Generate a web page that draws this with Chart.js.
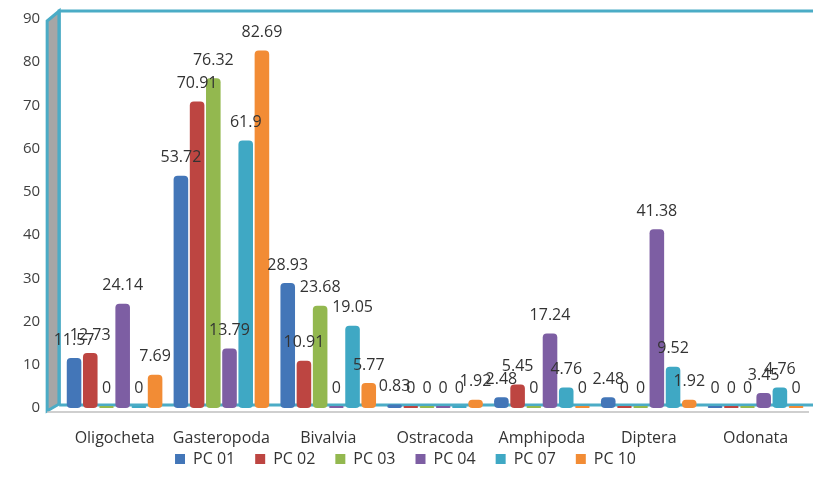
<!DOCTYPE html>
<html>
<head>
<meta charset="utf-8">
<script src="https://cdn.jsdelivr.net/npm/chart.js@4"></script>
<style>
  html, body { margin: 0; padding: 0; background: #fff; }
  #wrap { width: 817px; height: 494px; position: relative; }
</style>
</head>
<body>
<div id="wrap"><canvas id="taxaChart"></canvas></div>
<script>
// categories and series
const taxa = ['Oligocheta', 'Gasteropoda', 'Bivalvia', 'Ostracoda', 'Amphipoda', 'Diptera', 'Odonata'];
const pc01 = [11.57, 53.72, 28.93, 0.83, 2.48, 2.48, 0];
const pc02 = [12.73, 70.91, 10.91, 0, 5.45, 0, 0];
const pc03 = [0, 76.32, 23.68, 0, 0, 0, 0];
const pc04 = [24.14, 13.79, 0, 0, 17.24, 41.38, 3.45];
const pc07 = [0, 61.9, 19.05, 0, 4.76, 9.52, 4.76];
const pc10 = [7.69, 82.69, 5.77, 1.92, 0, 1.92, 0];
const yTicks = [0, 10, 20, 30, 40, 50, 60, 70, 80, 90];

const FONT = '"Open Sans", Lato, sans-serif';

// wall + floor decoration, like the old excel 3d look
const wallPlugin = {
    id: 'wall',
    afterLayout(chart) {
        // pull the legend up closer to the category labels
        const lg = chart.legend;
        if (lg) {
            lg.top -= 17;
            lg.bottom -= 17;
        }
    },
    beforeDatasetsDraw(chart) {
        const { ctx, chartArea: a } = chart;
        ctx.save();
        // left side wall
        ctx.fillStyle = '#a6a6a6';
        ctx.beginPath();
        ctx.moveTo(a.left - 14, a.top + 2);
        ctx.lineTo(a.left - 2, a.top - 8);
        ctx.lineTo(a.left - 2, a.bottom - 4);
        ctx.lineTo(a.left - 14, a.bottom + 3);
        ctx.closePath();
        ctx.fill();
        ctx.strokeStyle = '#4bacc6';
        ctx.lineWidth = 3;
        ctx.stroke();
        // back wall border
        ctx.beginPath();
        ctx.moveTo(a.left - 2, a.bottom - 4);
        ctx.lineTo(a.left - 2, a.top - 8);
        ctx.lineTo(a.right + 4, a.top - 8);
        ctx.stroke();
        // floor
        ctx.beginPath();
        ctx.moveTo(a.left - 2, a.bottom - 3);
        ctx.lineTo(a.right + 4, a.bottom - 3);
        ctx.stroke();
        ctx.strokeStyle = '#bfbfbf';
        ctx.lineWidth = 1.5;
        ctx.beginPath();
        ctx.moveTo(a.left - 14, a.bottom + 4);
        ctx.lineTo(a.right, a.bottom + 4);
        ctx.stroke();
        ctx.restore();
    }
};

// value labels above each bar
const valueLabels = {
    id: 'valueLabels',
    afterDatasetsDraw(chart) {
        const { ctx } = chart;
        ctx.save();
        ctx.font = '16px ' + FONT;
        ctx.fillStyle = '#333';
        ctx.textAlign = 'center';
        ctx.textBaseline = 'middle';
        chart.data.datasets.forEach((ds, i) => {
            chart.getDatasetMeta(i).data.forEach((bar, j) => {
                ctx.fillText(String(ds.data[j]), bar.x, bar.y - 18);
            });
        });
        ctx.restore();
    }
};

const series = [
    { label: 'PC 01', data: pc01, color: '#4376b8' },
    { label: 'PC 02', data: pc02, color: '#bd4541' },
    { label: 'PC 03', data: pc03, color: '#93b84f' },
    { label: 'PC 04', data: pc04, color: '#7d5ea3' },
    { label: 'PC 07', data: pc07, color: '#3fa8c4' },
    { label: 'PC 10', data: pc10, color: '#f28c35' }
];

new Chart(document.getElementById('taxaChart'), {
    type: 'bar',
    data: {
        labels: taxa,
        datasets: series.map(s => ({
            label: s.label,
            data: s.data,
            backgroundColor: s.color,
            borderColor: s.color,
            borderWidth: 0,
            borderRadius: 4,
            borderSkipped: false,
            minBarLength: 2
        }))
    },
    options: {
        responsive: true,
        maintainAspectRatio: false,
        animation: false,
        categoryPercentage: 0.91,
        barPercentage: 0.9,
        layout: { padding: { top: 0, right: 8, left: 2, bottom: 0 } },
        plugins: {
            legend: {
                position: 'bottom',
                labels: {
                    boxWidth: 10,
                    boxHeight: 10,
                    padding: 20,
                    color: '#333',
                    font: { family: FONT, size: 16 }
                }
            },
            tooltip: { enabled: false }
        },
        scales: {
            x: {
                grid: { display: false, drawTicks: false },
                border: { display: false },
                afterFit(scale) {
                    scale.height = 40;
                },
                ticks: {
                    padding: 21,
                    maxRotation: 0,
                    color: '#333',
                    font: { family: FONT, size: 16 }
                }
            },
            y: {
                min: 0,
                max: 90,
                afterBuildTicks(axis) {
                    axis.ticks = yTicks.map(v => ({ value: v }));
                },
                afterFit(scale) {
                    scale.paddingTop = 19;
                    scale.paddingBottom = 0;
                },
                grid: { display: false, drawTicks: false },
                border: { display: false },
                ticks: {
                    padding: 21,
                    color: '#404040',
                    font: { family: FONT, size: 15 }
                }
            }
        }
    },
    plugins: [wallPlugin, valueLabels]
});
</script>
</body>
</html>
